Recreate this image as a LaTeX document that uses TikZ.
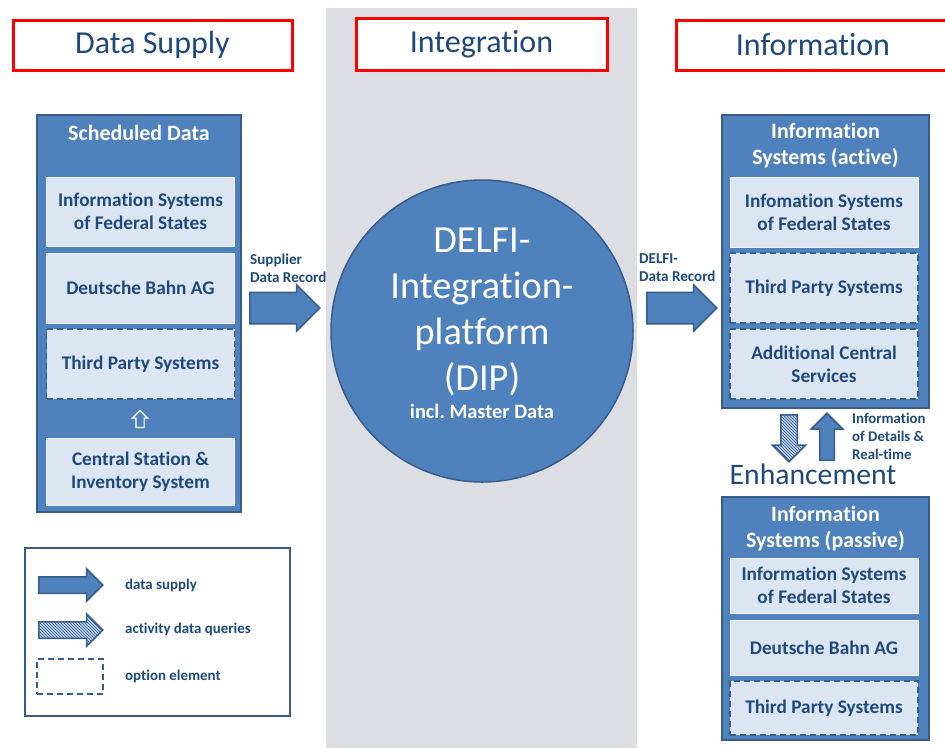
\documentclass[tikz,border=0pt]{standalone}
\usepackage{fontspec}
\setmainfont{Carlito}[Ligatures=NoCommon]
\usetikzlibrary{shapes.arrows,patterns}

\definecolor{boxblue}{RGB}{79,129,189}
\definecolor{boxline}{RGB}{56,93,138}
\definecolor{itemfill}{RGB}{220,230,242}
\definecolor{textblue}{RGB}{31,73,125}
\definecolor{bggray}{RGB}{221,221,228}
\definecolor{hatchfill}{RGB}{185,205,229}

\begin{document}
\begin{tikzpicture}[x=1pt,y=-1pt,
    heading/.style={draw=red, line width=3pt, fill=white, text=textblue, font=\fontsize{32}{38}\selectfont},
    bigbox/.style={draw=boxline, line width=2pt, fill=boxblue, inner sep=0pt},
    hdr/.style={text=white, font=\fontsize{21.9}{26}\selectfont\bfseries, align=center, inner sep=0pt},
    item/.style={draw=white!60!itemfill, line width=1pt, fill=itemfill, minimum width=188, text=textblue, font=\fontsize{19.3}{23}\selectfont\bfseries, align=center, inner sep=0pt},
    optitem/.style={item, draw=boxline, line width=1.5pt, dash pattern=on 6pt off 4pt},
    blockarrow/.style={single arrow, draw=boxline, line width=1.5pt, fill=boxblue, inner xsep=0pt, anchor=tail},
    hatcharrow/.style={blockarrow, fill=hatchfill, postaction={pattern=north west lines, pattern color=boxline}},
    lbl/.style={text=textblue, font=\fontsize{15.1}{18}\selectfont\bfseries, align=left, anchor=west, inner sep=0pt}]
    \useasboundingbox (0,0) rectangle (945,748);
    \fill[bggray] (326,8) rectangle (637,748);

    \node[heading, minimum width=279, minimum height=50] (hSup) at (152.5,45) {Data Supply};
    \node[heading, minimum width=251, minimum height=52] (hInt) at (481.5,44) {Integration};
    \node[heading, minimum width=274, minimum height=50] (hInf) at (813,45) {Information};

    \node[bigbox, minimum width=204, minimum height=397] (sched) at (139,313.5) {};
    \node[hdr] (schedT) at (139,133) {Scheduled Data};
    \node[item, minimum height=69] (fedL) at (140.5,211.5) {Information Systems\\of Federal States};
    \node[item, minimum height=70] (dbL) at (140.5,288) {Deutsche Bahn AG};
    \node[optitem, minimum height=70] (tpL) at (140.5,364) {Third Party Systems};
    \node[single arrow, draw=white, line width=1.2pt, fill=boxblue, inner xsep=0pt, inner ysep=3.5pt, rotate=90, anchor=tail, minimum height=17, single arrow head extend=3.5pt] (upL) at (140,428) {};
    \node[item, minimum height=67] (csL) at (140.5,471.5) {Central Station \&\\Inventory System};

    \node[blockarrow, inner ysep=15pt, minimum height=70, single arrow head extend=7.5pt] (supA) at (249,308) {};
    \node[lbl] (supL) at (250,268) {Supplier\\Data Record};

    \node[circle, draw=boxline, line width=1.5pt, fill=boxblue, minimum size=302, inner sep=0pt] (dip) at (482,331) {};
    \node[text=white, align=center, font=\fontsize{38.3}{46}\selectfont] (dipT) at (482,312) {DELFI-\\Integration-\\platform\\(DIP)};
    \node[text=white, font=\fontsize{20.4}{24}\selectfont\bfseries] (dipM) at (482,411) {incl.\ Master Data};

    \node[blockarrow, inner ysep=15pt, minimum height=70, single arrow head extend=7.5pt] (delA) at (646,308) {};
    \node[lbl] (delL) at (639,268) {DELFI-\\Data Record};

    \node[bigbox, minimum width=207, minimum height=293] (actv) at (825.5,261.5) {};
    \node[hdr] (actvT) at (825.5,146) {Information\\Systems (active)};
    \node[item, minimum height=70] (fedR) at (824,212) {Infomation Systems\\of Federal States};
    \node[optitem, minimum height=70] (tpR) at (824,288) {Third Party Systems};
    \node[optitem, minimum height=70] (acsR) at (824,364) {Additional Central\\Services};

    \node[hatcharrow, rotate=-90, inner ysep=7.5pt, minimum height=47, single arrow head extend=8.5pt] (dnA) at (789,414) {};
    \node[blockarrow, rotate=90, inner ysep=6.5pt, minimum height=47, single arrow head extend=8.5pt] (upA) at (827,461) {};
    \node[lbl, font=\fontsize{14.8}{18}\selectfont\bfseries] (detL) at (852,436) {Information\\of Details \&\\Real-time};
    \node[text=textblue, font=\fontsize{29.7}{36}\selectfont, inner sep=0pt] (enh) at (813,474) {Enhancement};

    \node[bigbox, minimum width=207, minimum height=243] (pasv) at (825.5,618.5) {};
    \node[hdr] (pasvT) at (825.5,529) {Information\\Systems (passive)};
    \node[item, minimum height=55] (fedP) at (824,585.5) {Information Systems\\of Federal States};
    \node[item, minimum height=55] (dbP) at (824,647.5) {Deutsche Bahn AG};
    \node[optitem, minimum height=54] (tpP) at (824,708) {Third Party Systems};

    \node[draw=boxline, line width=2pt, fill=white, minimum width=265, minimum height=168] (legend) at (157.5,632) {};
    \node[blockarrow, inner ysep=7.5pt, minimum height=64, single arrow head extend=8pt] (lgA) at (38,585) {};
    \node[hatcharrow, inner ysep=7.5pt, minimum height=64, single arrow head extend=8pt] (lgB) at (38,630) {};
    \node[draw=boxline, line width=1.5pt, dash pattern=on 6pt off 4pt, minimum width=66, minimum height=35] (lgC) at (70,676.5) {};
    \node[lbl, font=\fontsize{14.9}{18}\selectfont\bfseries] (lgAT) at (125,585) {data supply};
    \node[lbl, font=\fontsize{14.9}{18}\selectfont\bfseries] (lgBT) at (125,629) {activity data queries};
    \node[lbl, font=\fontsize{14.9}{18}\selectfont\bfseries] (lgCT) at (125,676) {option element};
\end{tikzpicture}
\end{document}
